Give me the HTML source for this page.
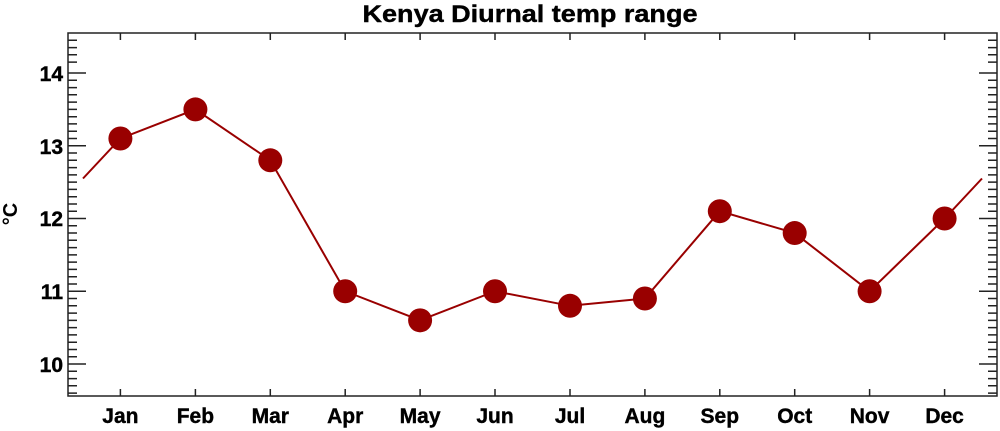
<!DOCTYPE html>
<html><head><meta charset="utf-8"><style>
html,body{margin:0;padding:0;background:#fff;}
svg{display:block;}
text{font-family:"Liberation Sans",Arial,sans-serif;font-weight:bold;fill:#000;}
</style></head><body>
<svg width="1000" height="431" viewBox="0 0 1000 431" xmlns="http://www.w3.org/2000/svg">
<rect width="1000" height="431" fill="#fff"/>
<text x="530" y="22" font-size="24" text-anchor="middle" textLength="335" lengthAdjust="spacingAndGlyphs" stroke="#000" stroke-width="0.4">Kenya Diurnal temp range</text>
<text transform="translate(17,214) rotate(-90)" font-size="20" text-anchor="middle">°C</text>
<rect x="68" y="33" width="929" height="363" fill="none" stroke="#222" stroke-width="1.5"/>
<path stroke="#222" stroke-width="1.5" fill="none" d="M68,73h18M997,73h-18M68,145.75h18M997,145.75h-18M68,218.5h18M997,218.5h-18M68,291.25h18M997,291.25h-18M68,364h18M997,364h-18M68,40.3h9M997,40.3h-9M68,47.6h9M997,47.6h-9M68,54.8h9M997,54.8h-9M68,62.1h9M997,62.1h-9M68,80.3h9M997,80.3h-9M68,87.6h9M997,87.6h-9M68,94.8h9M997,94.8h-9M68,102.1h9M997,102.1h-9M68,109.4h9M997,109.4h-9M68,116.7h9M997,116.7h-9M68,123.9h9M997,123.9h-9M68,131.2h9M997,131.2h-9M68,138.5h9M997,138.5h-9M68,153h9M997,153h-9M68,160.3h9M997,160.3h-9M68,167.6h9M997,167.6h-9M68,174.9h9M997,174.9h-9M68,182.1h9M997,182.1h-9M68,189.4h9M997,189.4h-9M68,196.7h9M997,196.7h-9M68,204h9M997,204h-9M68,211.2h9M997,211.2h-9M68,225.8h9M997,225.8h-9M68,233h9M997,233h-9M68,240.3h9M997,240.3h-9M68,247.6h9M997,247.6h-9M68,254.9h9M997,254.9h-9M68,262.1h9M997,262.1h-9M68,269.4h9M997,269.4h-9M68,276.7h9M997,276.7h-9M68,284h9M997,284h-9M68,298.5h9M997,298.5h-9M68,305.8h9M997,305.8h-9M68,313.1h9M997,313.1h-9M68,320.4h9M997,320.4h-9M68,327.6h9M997,327.6h-9M68,334.9h9M997,334.9h-9M68,342.2h9M997,342.2h-9M68,349.5h9M997,349.5h-9M68,356.7h9M997,356.7h-9M68,371.3h9M997,371.3h-9M68,378.6h9M997,378.6h-9M68,385.8h9M997,385.8h-9M68,393.1h9M997,393.1h-9M120.4,33v7M120.4,396v-7M195.4,33v7M195.4,396v-7M270.3,33v7M270.3,396v-7M345.2,33v7M345.2,396v-7M420.1,33v7M420.1,396v-7M495,33v7M495,396v-7M570,33v7M570,396v-7M644.9,33v7M644.9,396v-7M719.8,33v7M719.8,396v-7M794.7,33v7M794.7,396v-7M869.6,33v7M869.6,396v-7M944.6,33v7M944.6,396v-7"/>
<polyline fill="none" stroke="#990000" stroke-width="2" points="83,178.5 120.4,138.5 195.4,109.4 270.3,160.3 345.2,291.25 420.1,320.35 495,291.25 570,305.8 644.9,298.5 719.8,211.2 794.7,233.05 869.6,291.25 944.6,218.5 982,178.5"/>
<g fill="#990000">
<circle cx="120.4" cy="138.5" r="12"/>
<circle cx="195.4" cy="109.4" r="12"/>
<circle cx="270.3" cy="160.3" r="12"/>
<circle cx="345.2" cy="291.25" r="12"/>
<circle cx="420.1" cy="320.35" r="12"/>
<circle cx="495" cy="291.25" r="12"/>
<circle cx="570" cy="305.8" r="12"/>
<circle cx="644.9" cy="298.5" r="12"/>
<circle cx="719.8" cy="211.2" r="12"/>
<circle cx="794.7" cy="233.05" r="12"/>
<circle cx="869.6" cy="291.25" r="12"/>
<circle cx="944.6" cy="218.5" r="12"/>
</g>
<g font-size="21" text-anchor="end" stroke="#000" stroke-width="0.4">
<text x="63" y="81">14</text>
<text x="63" y="154">13</text>
<text x="63" y="226">12</text>
<text x="63" y="299">11</text>
<text x="63" y="372">10</text>
</g>
<g font-size="21" text-anchor="middle" stroke="#000" stroke-width="0.4">
<text x="120.4" y="423">Jan</text>
<text x="195.4" y="423">Feb</text>
<text x="270.3" y="423">Mar</text>
<text x="345.2" y="423">Apr</text>
<text x="420.1" y="423">May</text>
<text x="495" y="423">Jun</text>
<text x="570" y="423">Jul</text>
<text x="644.9" y="423">Aug</text>
<text x="719.8" y="423">Sep</text>
<text x="794.7" y="423">Oct</text>
<text x="869.6" y="423">Nov</text>
<text x="944.6" y="423">Dec</text>
</g>
</svg>
</body></html>
